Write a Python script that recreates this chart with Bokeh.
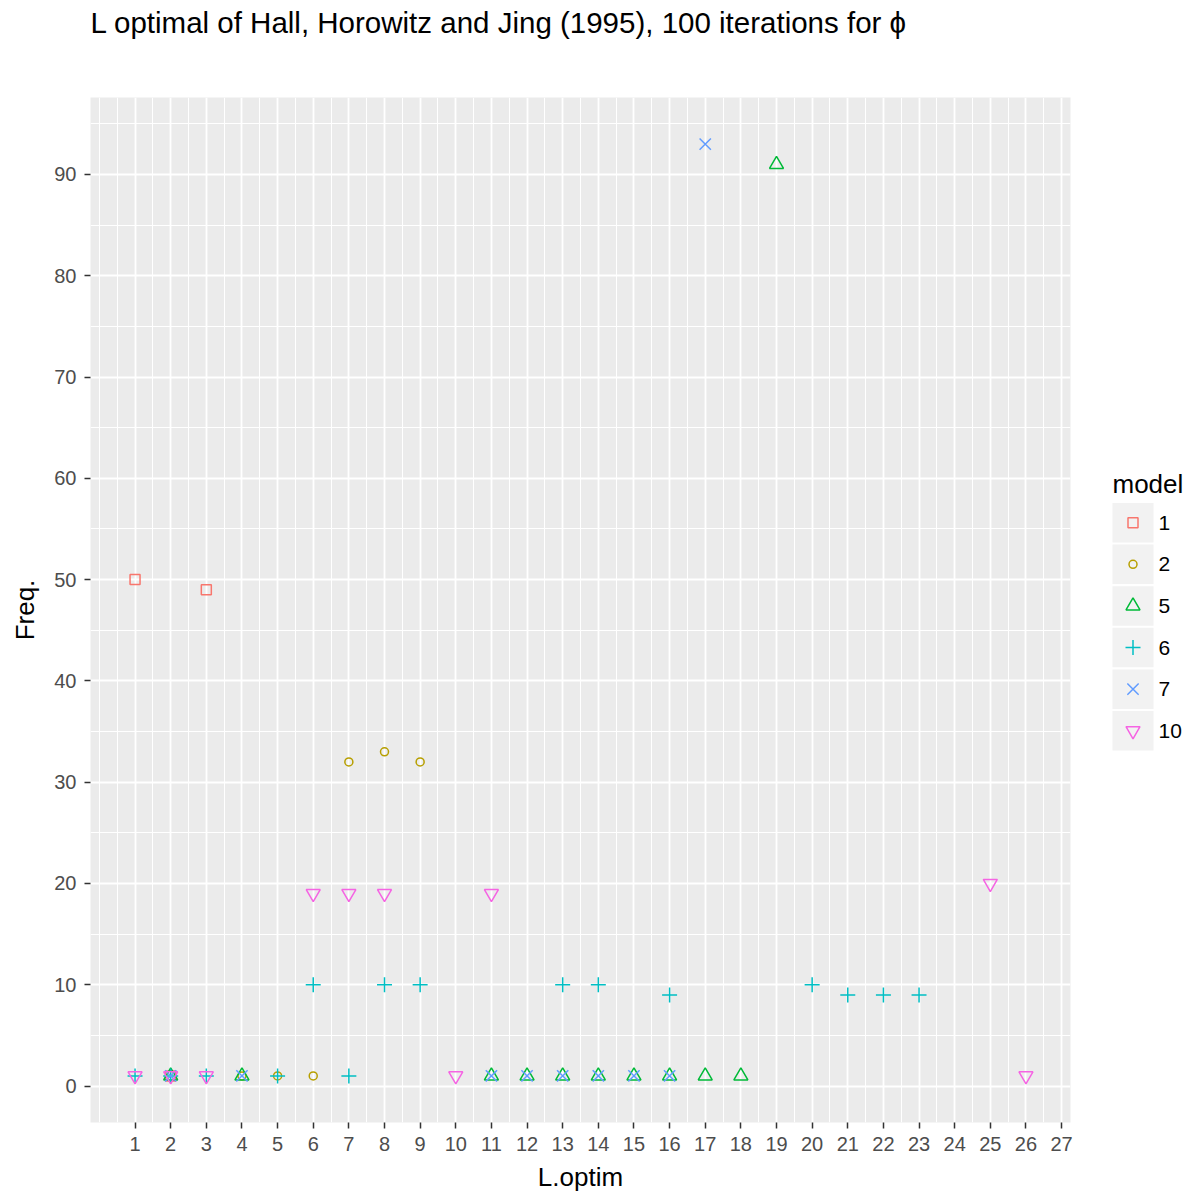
from bokeh.plotting import figure
from bokeh.models import FixedTicker, Range1d, Title, LinearAxis
from bokeh.layouts import row
from bokeh.core.properties import value
from bokeh.embed import file_html
from bokeh.resources import INLINE

# Optimal block length L per model and how often it was chosen (100 iterations)
models = ["1", "2", "5", "6", "7", "10"]
colors = ["#F8766D", "#B79F00", "#00BA38", "#00BFC4", "#619CFF", "#F564E3"]
markers = ["square", "circle", "triangle", "cross", "x", "inverted_triangle"]
marker_sizes = [10, 8, 14, 15, 16, 14]

m1_L = [1, 2, 3]
m1_freq = [50, 1, 49]
m2_L = [4, 5, 6, 7, 8, 9]
m2_freq = [1, 1, 1, 32, 33, 32]
m5_L = [2, 4, 11, 12, 13, 14, 15, 16, 17, 18, 19]
m5_freq = [1, 1, 1, 1, 1, 1, 1, 1, 1, 1, 91]
m6_L = [1, 2, 3, 5, 6, 7, 8, 9, 13, 14, 16, 20, 21, 22, 23]
m6_freq = [1, 1, 1, 1, 10, 1, 10, 10, 10, 10, 9, 10, 9, 9, 9]
m7_L = [2, 4, 11, 12, 13, 14, 15, 16, 17]
m7_freq = [1, 1, 1, 1, 1, 1, 1, 1, 93]
m10_L = [1, 2, 3, 6, 7, 8, 10, 11, 25, 26]
m10_freq = [1, 1, 1, 19, 19, 19, 1, 19, 20, 1]

x_breaks = list(range(1, 28))
y_breaks = [0, 10, 20, 30, 40, 50, 60, 70, 80, 90]

series_L = [m1_L, m2_L, m5_L, m6_L, m7_L, m10_L]
series_freq = [m1_freq, m2_freq, m5_freq, m6_freq, m7_freq, m10_freq]

FONT = "Liberation Sans"
PANEL = "#EBEBEB"

# 5% expansion on both axes
x_lo, x_hi = 1, 26
y_lo, y_hi = 1, 93
xpad = (x_hi - x_lo) * 0.05
ypad = (y_hi - y_lo) * 0.05

FRAME_TOP, FRAME_BOTTOM = 97, 1122

p = figure(width=1100, height=1194, output_backend="svg", toolbar_location=None,
           x_range=Range1d(x_lo - xpad, x_hi + xpad),
           y_range=Range1d(y_lo - ypad, y_hi + ypad),
           min_border_left=90, min_border_right=30,
           min_border_top=FRAME_TOP, min_border_bottom=1194 - FRAME_BOTTOM)
p.background_fill_color = PANEL
p.border_fill_color = "white"
p.outline_line_color = None

xaxis = p.below[0]
yaxis = p.left[0]

# blank top axis: only its (invisible) tick length is used, as a gap
# between the panel and the title
gap_axis = LinearAxis(ticker=FixedTicker(ticks=[x_breaks[0]], minor_ticks=[]),
                      axis_line_color=None, major_tick_line_color=None,
                      minor_tick_line_color=None,
                      major_label_text_font_size="0px",
                      major_label_text_color=None,
                      major_tick_out=52, major_tick_in=0, minor_tick_out=0,
                      major_label_standoff=0, axis_label=None)
p.add_layout(gap_axis, "above")

title = Title(text="L optimal of Hall, Horowitz and Jing (1995), 100 iterations for ϕ",
              text_font=FONT, text_font_size="29.5px", text_font_style="normal",
              text_color="black", align="left", vertical_align="top", standoff=10)
p.add_layout(title, "above")

# tickers with minor breaks halfway between the majors
x_minor = [0] + [b + 0.5 for b in range(0, 27)]
y_minor = [5, 15, 25, 35, 45, 55, 65, 75, 85, 95]
xaxis.ticker = FixedTicker(ticks=x_breaks, minor_ticks=x_minor)
yaxis.ticker = FixedTicker(ticks=y_breaks, minor_ticks=y_minor)
p.xgrid.ticker = FixedTicker(ticks=x_breaks, minor_ticks=x_minor)
p.ygrid.ticker = FixedTicker(ticks=y_breaks, minor_ticks=y_minor)

for g in (p.xgrid, p.ygrid):
    g.grid_line_color = "white"
    g.grid_line_width = 1.8
    g.minor_grid_line_color = "white"
    g.minor_grid_line_width = 1.0

for ax in (xaxis, yaxis):
    ax.axis_line_color = None
    ax.major_tick_line_color = "#333333"
    ax.major_tick_line_width = 1.5
    ax.major_tick_out = 6
    ax.major_tick_in = 0
    ax.minor_tick_line_color = None
    ax.major_label_text_font = FONT
    ax.major_label_text_font_size = "20px"
    ax.major_label_text_color = "#4D4D4D"
    ax.axis_label_text_font = FONT
    ax.axis_label_text_font_size = "26px"
    ax.axis_label_text_font_style = "normal"
    ax.axis_label_text_color = "black"

xaxis.axis_label = "L.optim"
yaxis.axis_label = "Freq."
xaxis.major_label_standoff = 8
xaxis.axis_label_standoff = 8
yaxis.major_label_standoff = 8
yaxis.axis_label_standoff = 11

for xs, ys, col, mk, sz in zip(series_L, series_freq, colors, markers, marker_sizes):
    p.scatter(x=xs, y=ys, marker=mk, size=sz, fill_color=None,
              line_color=col, line_width=1.5)

# legend panel; its frame spans the same rows as the plot panel,
# so the y range is given in page pixels over that span
leg = figure(width=92, height=1194, output_backend="svg", toolbar_location=None,
             x_range=Range1d(0, 92), y_range=Range1d(FRAME_BOTTOM, FRAME_TOP),
             min_border=0, min_border_left=0, min_border_right=0,
             min_border_top=FRAME_TOP, min_border_bottom=1194 - FRAME_BOTTOM)
leg.axis.visible = False
leg.grid.visible = False
leg.outline_line_color = None
leg.background_fill_color = "white"
leg.border_fill_color = "white"

key_top = 502.5
key_step = 41.6
key_h = 39.5
key_cx = 32.5
key_y = [key_top + key_h / 2 + i * key_step for i in range(len(models))]

leg.rect(x=[key_cx] * len(models), y=key_y, width=41, height=key_h,
         fill_color="#F2F2F2", line_color=None)
leg.scatter(x=[key_cx] * len(models), y=key_y, marker=markers, size=marker_sizes,
            fill_color=None, line_color=colors, line_width=1.5)
leg.text(x=[58] * len(models), y=key_y, text=models, text_font=value(FONT),
         text_font_size="21px", text_baseline="middle", text_align="left",
         text_color="black")
leg.text(x=[12], y=[483], text=["model"], text_font=value(FONT),
         text_font_size="26px", text_baseline="middle", text_align="left",
         text_color="black")

layout = row(p, leg)
open("out.html", "w").write(file_html(layout, INLINE))
